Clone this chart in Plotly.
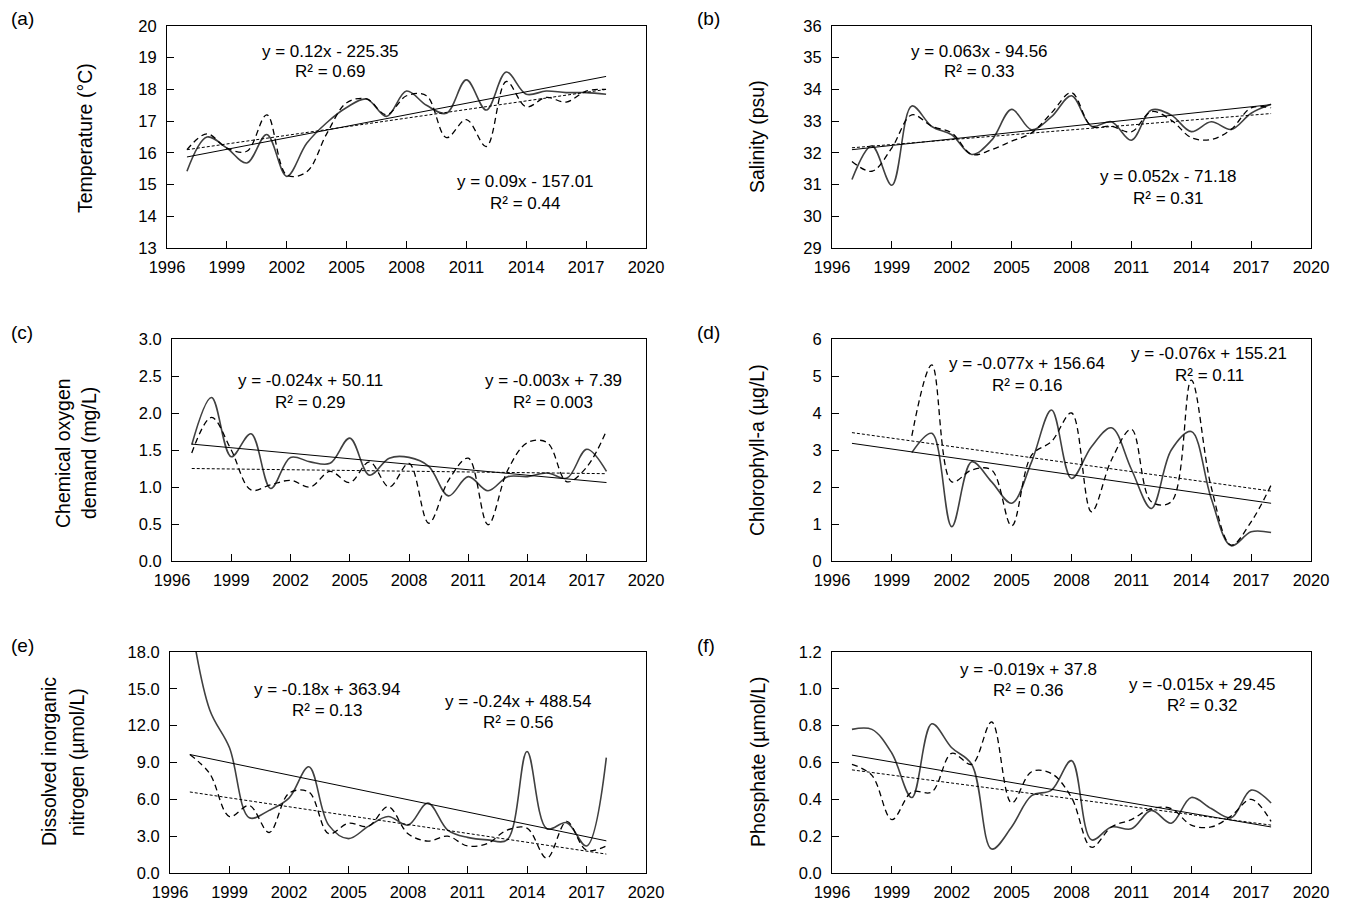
import plotly.graph_objs as go

W, H = 1346, 916

years = list(range(1997, 2019))
years_chl = list(range(2000, 2019))
trend_years = [1997, 2018]

# (a) temperature
temp_solid = [15.42, 16.5, 16.15, 15.68, 16.58, 15.26, 16.3, 16.95, 17.43, 17.7, 17.15,
              17.95, 17.5, 17.25, 18.3, 17.35, 18.55, 17.85, 17.95, 17.9, 17.9, 17.85]
temp_dash = [16.1, 16.6, 16.15, 16.05, 17.2, 15.3, 15.4, 16.6, 17.58, 17.7, 17.2,
             17.8, 17.8, 16.48, 17.05, 16.2, 18.25, 17.45, 17.75, 17.6, 17.95, 18.0]
temp_trend_solid = [15.87, 18.41]
temp_trend_dash = [16.1, 18.0]

# (b) salinity
sal_solid = [31.16, 32.22, 30.98, 33.48, 32.83, 32.57, 31.95, 32.4, 33.37, 32.73, 33.14,
             33.8, 32.84, 32.98, 32.4, 33.35, 33.19, 32.67, 32.98, 32.74, 33.25, 33.53]
sal_dash = [31.73, 31.42, 32.16, 33.2, 32.84, 32.63, 31.95, 32.1, 32.37, 32.63, 33.26,
            33.9, 32.84, 32.84, 32.66, 33.3, 33.03, 32.48, 32.42, 32.74, 33.42, 33.42]
sal_trend_solid = [32.1, 33.52]
sal_trend_dash = [32.16, 33.24]

# (c) chemical oxygen demand
cod_solid = [1.57, 2.21, 1.41, 1.72, 0.98, 1.4, 1.34, 1.32, 1.66, 1.16, 1.39,
             1.4, 1.28, 0.88, 1.14, 0.95, 1.14, 1.14, 1.19, 1.12, 1.51, 1.21]
cod_dash = [1.46, 1.94, 1.5, 0.96, 1.03, 1.09, 1.0, 1.21, 1.06, 1.34, 1.0,
            1.32, 0.51, 1.09, 1.39, 0.49, 1.23, 1.6, 1.6, 1.07, 1.27, 1.76]
cod_trend_solid = [1.58, 1.06]
cod_trend_dash = [1.25, 1.18]

# (d) chlorophyll-a (from 2000)
chl_solid = [2.93, 3.45, 0.93, 2.68, 2.14, 1.56, 2.68, 4.08, 2.23, 3.09, 3.6,
             2.48, 1.42, 3.0, 3.5, 1.69, 0.41, 0.79, 0.77]
chl_dash = [3.38, 5.3, 2.14, 2.46, 2.46, 0.95, 2.86, 3.23, 4.0, 1.33, 2.73,
            3.56, 1.6, 1.6, 4.89, 2.0, 0.43, 1.06, 2.05]
chl_trend_solid = [3.18, 1.56]
chl_trend_dash = [3.47, 1.89]

# (e) dissolved inorganic nitrogen
din_solid = [21.0, 13.3, 10.2, 4.5, 5.1, 6.1, 8.65, 3.9, 2.8, 3.8, 4.6,
             3.9, 5.7, 3.5, 2.9, 2.7, 2.7, 9.9, 3.6, 4.1, 2.2, 9.4]
din_dash = [9.65, 8.1, 4.6, 5.5, 3.3, 6.5, 6.6, 3.2, 4.05, 3.8, 5.4,
            3.2, 2.6, 3.0, 2.2, 2.4, 3.5, 3.65, 1.2, 4.2, 1.85, 2.2]
din_trend_solid = [9.65, 2.62]
din_trend_dash = [6.6, 1.54]

# (f) phosphate
po4_solid = [0.78, 0.78, 0.65, 0.41, 0.81, 0.68, 0.59, 0.13, 0.25, 0.42, 0.45,
             0.61, 0.18, 0.25, 0.24, 0.34, 0.27, 0.41, 0.35, 0.3, 0.45, 0.38]
po4_dash = [0.59, 0.53, 0.29, 0.44, 0.44, 0.65, 0.59, 0.82, 0.38, 0.55, 0.54,
            0.41, 0.14, 0.25, 0.29, 0.35, 0.35, 0.26, 0.25, 0.31, 0.4, 0.28]
po4_trend_solid = [0.64, 0.25]
po4_trend_dash = [0.56, 0.26]

x_ticks = list(range(1996, 2021, 3))


def px_x(p):
    return p / W


def px_y(p):
    return 1 - p / H


# panel frame pixels: left, right, top, bottom
panels = [
    dict(letter='(a)', box=(167, 646, 26, 248), yr=[13, 20], dt=1, fmt='d',
         solid=(years, temp_solid), dash=(years, temp_dash),
         ts=temp_trend_solid, td=temp_trend_dash,
         title='Temperature (°C)', tx=[85], ty=138,
         eqs=[('y = 0.12x - 225.35', 'R² = 0.69', 330, 51),
              ('y = 0.09x - 157.01', 'R² = 0.44', 525, 182)]),
    dict(letter='(b)', box=(832, 1311, 26, 248), yr=[29, 36], dt=1, fmt='d',
         solid=(years, sal_solid), dash=(years, sal_dash),
         ts=sal_trend_solid, td=sal_trend_dash,
         title='Salinity (psu)', tx=[757], ty=137,
         eqs=[('y = 0.063x - 94.56', 'R² = 0.33', 979, 51),
              ('y = 0.052x - 71.18', 'R² = 0.31', 1168, 177)]),
    dict(letter='(c)', box=(172, 646, 339, 561), yr=[0, 3], dt=0.5, fmt='.1f',
         solid=(years, cod_solid), dash=(years, cod_dash),
         ts=cod_trend_solid, td=cod_trend_dash,
         title=['Chemical oxygen', 'demand (mg/L)'], tx=[63, 89], ty=453,
         eqs=[('y = -0.024x + 50.11', 'R² = 0.29', 310, 381),
              ('y = -0.003x + 7.39', 'R² = 0.003', 553, 381)]),
    dict(letter='(d)', box=(832, 1311, 339, 561), yr=[0, 6], dt=1, fmt='d',
         solid=(years_chl, chl_solid), dash=(years_chl, chl_dash),
         ts=chl_trend_solid, td=chl_trend_dash,
         title='Chlorophyll-a (µg/L)', tx=[757], ty=450,
         eqs=[('y = -0.077x + 156.64', 'R² = 0.16', 1027, 364),
              ('y = -0.076x + 155.21', 'R² = 0.11', 1209, 354)]),
    dict(letter='(e)', box=(170, 646, 652, 873), yr=[0, 18], dt=3, fmt='.1f',
         solid=(years, din_solid), dash=(years, din_dash),
         ts=din_trend_solid, td=din_trend_dash,
         title=['Dissolved inorganic', 'nitrogen (µmol/L)'], tx=[49, 77], ty=762,
         eqs=[('y = -0.18x + 363.94', 'R² = 0.13', 327, 689),
              ('y = -0.24x + 488.54', 'R² = 0.56', 518, 701)]),
    dict(letter='(f)', box=(832, 1311, 652, 873), yr=[0, 1.2], dt=0.2, fmt='.1f',
         solid=(years, po4_solid), dash=(years, po4_dash),
         ts=po4_trend_solid, td=po4_trend_dash,
         title='Phosphate (µmol/L)', tx=[758], ty=762,
         eqs=[('y = -0.019x + 37.8', 'R² = 0.36', 1028, 669),
              ('y = -0.015x + 29.45', 'R² = 0.32', 1202, 684)]),
]

FONT = 'Liberation Sans, Arial, sans-serif'
fig = go.Figure()
annotations = []
layout = dict(width=W, height=H, margin=dict(l=0, r=0, t=0, b=0, autoexpand=False),
              paper_bgcolor='white', plot_bgcolor='white', showlegend=False,
              font=dict(family=FONT, size=16, color='black'))

for i, p in enumerate(panels):
    n = '' if i == 0 else str(i + 1)
    xa, ya = 'x' + n, 'y' + n
    l, r, t, b = p['box']
    common = dict(showline=True, linecolor='black', linewidth=1, mirror=True,
                  ticks='inside', ticklen=7, tickcolor='black', showgrid=False,
                  zeroline=False, automargin=False,
                  tickfont=dict(family=FONT, size=16.5, color='black'))
    layout['xaxis' + n] = dict(domain=[px_x(l), px_x(r)], anchor=ya, range=[1996, 2020],
                               tickvals=x_ticks, ticklabelstandoff=4, **common)
    layout['yaxis' + n] = dict(domain=[px_y(b), px_y(t)], anchor=xa, range=p['yr'],
                               dtick=p['dt'], tick0=0, tickformat=p['fmt'],
                               ticklabelstandoff=6, **common)

    fig.add_trace(go.Scatter(x=p['solid'][0], y=p['solid'][1], mode='lines',
                             line=dict(color='#404040', width=1.6, shape='spline', smoothing=1),
                             xaxis=xa, yaxis=ya, hoverinfo='skip'))
    fig.add_trace(go.Scatter(x=p['dash'][0], y=p['dash'][1], mode='lines',
                             line=dict(color='black', width=1.3, dash='6px,4px',
                                       shape='spline', smoothing=1),
                             xaxis=xa, yaxis=ya, hoverinfo='skip'))
    fig.add_trace(go.Scatter(x=trend_years, y=p['ts'], mode='lines',
                             line=dict(color='black', width=1),
                             xaxis=xa, yaxis=ya, hoverinfo='skip'))
    fig.add_trace(go.Scatter(x=trend_years, y=p['td'], mode='lines',
                             line=dict(color='black', width=1, dash='3px,2px'),
                             xaxis=xa, yaxis=ya, hoverinfo='skip'))

    # panel letter
    lx = 9 if l < 600 else 695
    annotations.append(dict(text=p['letter'], x=px_x(lx), y=px_y(t - 7),
                            xref='paper', yref='paper', xanchor='left', yanchor='middle',
                            showarrow=False, font=dict(size=19)))
    # y title
    titles = p['title'] if isinstance(p['title'], list) else [p['title']]
    for txt, tx in zip(titles, p['tx']):
        annotations.append(dict(text=txt, x=px_x(tx), y=px_y(p['ty']), textangle=-90,
                                xref='paper', yref='paper', xanchor='center',
                                yanchor='middle', showarrow=False, font=dict(size=19.5)))
    # equations
    for eq, r2, ex, ey in p['eqs']:
        annotations.append(dict(text=eq, x=px_x(ex), y=px_y(ey), xref='paper', yref='paper',
                                xanchor='center', yanchor='middle', showarrow=False,
                                font=dict(size=17)))
        annotations.append(dict(text=r2, x=px_x(ex), y=px_y(ey + 21), xref='paper',
                                yref='paper', xanchor='center', yanchor='middle',
                                showarrow=False, font=dict(size=17)))

layout['annotations'] = annotations
fig.update_layout(**layout)
fig.write_html('out.html', config={'displayModeBar': False},
               post_script="document.body.style.margin='0';")
